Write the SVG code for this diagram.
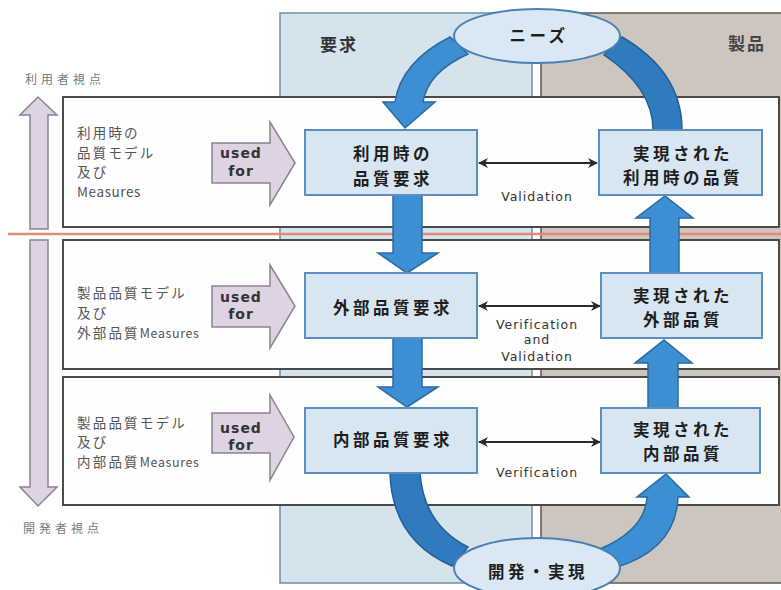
<svg xmlns="http://www.w3.org/2000/svg" width="781" height="590" viewBox="0 0 781 590">
  <defs>
    <style>
      .jp { font-family: "Noto Sans CJK JP", "Noto Sans", sans-serif; }
      .lat { font-family: "DejaVu Sans", "Liberation Sans", sans-serif; }
      .row { fill: #fefefe; stroke: #4a4a4a; stroke-width: 2; }
      .qbox { fill: #d7e6f1; stroke: #5a8fc0; stroke-width: 2; }
      .oval { fill: #d9e8f3; stroke: #4a80b4; stroke-width: 2; }
      .blk { fill: #3d8fd3; stroke: #2a6aa3; stroke-width: 1.5; }
      .blkd { fill: #2f7bbd; stroke: #245f94; stroke-width: 1.5; }
      .lav { fill: #ddd3e2; stroke: #8c8393; stroke-width: 1.5; }
      .side { font-size: 13.5px; fill: #555; letter-spacing: 2.2px; }
      .ms { letter-spacing: 0.6px; }
      .view { font-size: 12px; fill: #7a7a7a; letter-spacing: 4px; }
      .boxt { font-size: 16.5px; font-weight: bold; fill: #1e1e1e; letter-spacing: 3.5px; text-anchor: middle; }
      .used { font-size: 14px; font-weight: bold; fill: #333; letter-spacing: 1px; text-anchor: middle; }
      .vv { font-size: 12.5px; fill: #333; letter-spacing: 1px; text-anchor: middle; }
      .link { stroke: #2a2a2a; stroke-width: 2; fill: none; marker-end: url(#tip); marker-start: url(#tip); }
    </style>
    <marker id="tip" viewBox="0 0 10 10" refX="9" refY="5" markerWidth="5" markerHeight="5" orient="auto-start-reverse">
      <path d="M0,0 L10,5 L0,10 L3,5 Z" fill="#2a2a2a"/>
    </marker>
  </defs>

  <rect width="781" height="590" fill="#ffffff"/>

  <!-- requirement / product columns -->
  <g id="col-req">
    <rect x="280" y="13" width="252" height="570" fill="#d5e3ec" stroke="#6f8ea6" stroke-width="1.5"/>
    <text x="320" y="51" class="jp" font-size="17" font-weight="bold" fill="#333" letter-spacing="2">要求</text>
  </g>
  <g id="col-prod">
    <rect x="541" y="13" width="245" height="570" fill="#cdc6bf" stroke="#5a5a5a" stroke-width="1.5"/>
    <text x="728" y="50" class="jp" font-size="17" font-weight="bold" fill="#444" letter-spacing="2">製品</text>
  </g>

  <!-- layer bands -->
  <g id="row-use">
    <rect x="63" y="97" width="716" height="130" class="row"/>
    <text class="jp side" x="77" y="138">利用時の</text>
    <text class="jp side" x="77" y="158">品質モデル</text>
    <text class="jp side" x="77" y="177">及び</text>
    <text class="jp side ms" x="77" y="197" font-size="12.5">Measures</text>
  </g>
  <g id="row-ext">
    <rect x="63" y="240" width="716" height="129" class="row"/>
    <text class="jp side" x="77" y="298">製品品質モデル</text>
    <text class="jp side" x="77" y="318">及び</text>
    <text class="jp side" x="77" y="338">外部品質<tspan class="ms" font-size="12.5">Measures</tspan></text>
  </g>
  <g id="row-int">
    <rect x="63" y="377" width="716" height="128" class="row"/>
    <text class="jp side" x="77" y="428">製品品質モデル</text>
    <text class="jp side" x="77" y="447">及び</text>
    <text class="jp side" x="77" y="467">内部品質<tspan class="ms" font-size="12.5">Measures</tspan></text>
  </g>

  <!-- user / developer boundary -->
  <line x1="8" y1="234" x2="781" y2="234" stroke="#e08a78" stroke-width="2.5"/>

  <!-- viewpoint axis -->
  <g id="axis-user">
    <path d="M38,97 L57,115 L48,115 L48,229 L30,229 L30,115 L20,115 Z" class="lav"/>
    <text class="jp view" x="25" y="84">利用者視点</text>
  </g>
  <g id="axis-dev">
    <path d="M30,240 L48,240 L48,487 L57,487 L38,506 L20,487 L30,487 Z" class="lav"/>
    <text class="jp view" x="23" y="533">開発者視点</text>
  </g>

  <!-- "used for" arrows -->
  <g id="used-1">
    <path d="M212,143 L270,143 L270,122 L295,163 L270,205 L270,183 L212,183 Z" class="lav"/>
    <text class="lat used" x="241" y="158">used</text>
    <text class="lat used" x="241" y="176">for</text>
  </g>
  <g id="used-2">
    <path d="M212,286 L270,286 L270,265 L295,306 L270,348 L270,327 L212,327 Z" class="lav"/>
    <text class="lat used" x="241" y="302">used</text>
    <text class="lat used" x="241" y="319">for</text>
  </g>
  <g id="used-3">
    <path d="M212,413 L270,413 L270,395 L294,437 L270,480 L270,453 L212,453 Z" class="lav"/>
    <text class="lat used" x="241" y="433">used</text>
    <text class="lat used" x="241" y="450">for</text>
  </g>

  <!-- connectors -->
  <g id="connectors">
    <!-- needs -> quality-in-use requirement -->
    <path d="M450,37 Q401,62 395,102 L383,102 L405,128 L435,102 L423,102 Q428,72 468,54 Z" class="blk"/>
    <!-- realized quality in use -> needs -->
    <path d="M622,37 Q682,72 682,130 L653,130 Q653,88 604,55 Z" class="blkd"/>
    <!-- internal requirement -> development -->
    <path d="M390,473 Q392,540 452,566 L468,547 Q424,525 420,473 Z" class="blkd"/>
    <!-- development -> realized internal quality -->
    <path d="M600,549 Q645,530 647,497 L637,497 L666,474 L689,497 L678,497 Q676,550 614,568 Z" class="blk"/>

    <!-- requirement decomposition -->
    <path d="M393,195 L422,195 L422,253 L438,253 L407,273 L378,253 L393,253 Z" class="blk"/>
    <path d="M393,338 L422,338 L422,387 L438,387 L407,407 L378,387 L393,387 Z" class="blk"/>
    <!-- realized quality roll-up -->
    <path d="M650,273 L679,273 L679,218 L693,218 L665,196 L636,218 L650,218 Z" class="blk"/>
    <path d="M648,408 L678,408 L678,363 L692,363 L664,340 L635,363 L648,363 Z" class="blk"/>

    <!-- verification / validation links -->
    <line x1="479" y1="163" x2="597" y2="163" class="link"/>
    <line x1="479" y1="306" x2="600" y2="306" class="link"/>
    <line x1="479" y1="442" x2="600" y2="442" class="link"/>
    <text class="lat vv" x="537" y="201">Validation</text>
    <text class="lat vv" x="537" y="329">Verification</text>
    <text class="lat vv" x="537" y="344">and</text>
    <text class="lat vv" x="537" y="361">Validation</text>
    <text class="lat vv" x="537" y="477">Verification</text>
  </g>

  <!-- cycle end points -->
  <g id="needs">
    <ellipse cx="537" cy="36" rx="83" ry="27" class="oval"/>
    <text class="jp boxt" x="539" y="42" font-size="18" letter-spacing="1">ニーズ</text>
  </g>
  <g id="dev">
    <ellipse cx="537" cy="568" rx="83" ry="30" class="oval"/>
    <text class="jp boxt" x="538" y="578" font-size="18" letter-spacing="1">開発・実現</text>
  </g>

  <!-- requirement boxes -->
  <g id="req-use">
    <rect x="305" y="130" width="172" height="65" class="qbox"/>
    <text class="jp boxt" x="393" y="160">利用時の</text>
    <text class="jp boxt" x="393" y="185">品質要求</text>
  </g>
  <g id="req-ext">
    <rect x="305" y="273" width="172" height="65" class="qbox"/>
    <text class="jp boxt" x="393" y="314">外部品質要求</text>
  </g>
  <g id="req-int">
    <rect x="305" y="408" width="172" height="65" class="qbox"/>
    <text class="jp boxt" x="393" y="446">内部品質要求</text>
  </g>

  <!-- realized quality boxes -->
  <g id="real-use">
    <rect x="599" y="130" width="163" height="65" class="qbox"/>
    <text class="jp boxt" x="683" y="160">実現された</text>
    <text class="jp boxt" x="683" y="184">利用時の品質</text>
  </g>
  <g id="real-ext">
    <rect x="601" y="273" width="161" height="65" class="qbox"/>
    <text class="jp boxt" x="683" y="302">実現された</text>
    <text class="jp boxt" x="683" y="326">外部品質</text>
  </g>
  <g id="real-int">
    <rect x="601" y="408" width="159" height="65" class="qbox"/>
    <text class="jp boxt" x="683" y="436">実現された</text>
    <text class="jp boxt" x="683" y="460">内部品質</text>
  </g>
</svg>
